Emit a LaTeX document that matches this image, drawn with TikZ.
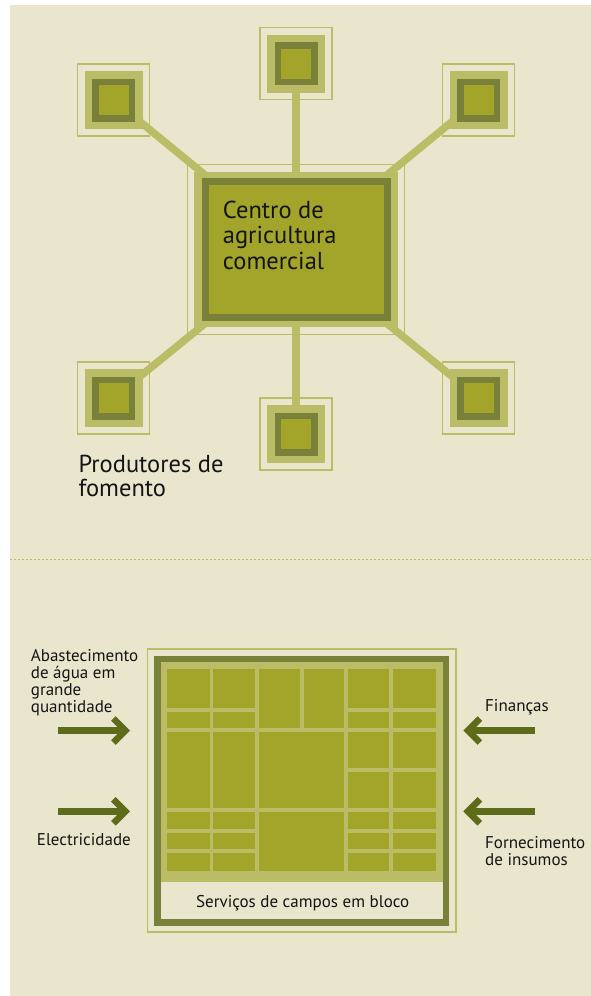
\documentclass[tikz,border=0pt]{standalone}
\usepackage{fontspec}
\setmainfont{PT Sans}
\usetikzlibrary{calc}
\definecolor{bg}{RGB}{233,230,205}
\definecolor{lite}{RGB}{186,188,102}
\definecolor{dark}{RGB}{121,128,58}
\definecolor{field}{RGB}{163,165,43}
\definecolor{arr}{RGB}{94,108,26}
\definecolor{txt}{RGB}{20,20,20}
\tikzset{
  link/.style={lite, line width=7.5},
  sframe/.style={draw=lite, line width=1.3, rectangle, inner sep=0, minimum size=72},
  slite/.style={fill=lite, rectangle, inner sep=0, minimum size=58},
  sdark/.style={fill=dark, rectangle, inner sep=0, minimum size=43},
  sfield/.style={fill=field, rectangle, inner sep=0, minimum size=30},
  fld/.style={fill=field},
  arrline/.style={arr, line width=6.5, miter limit=10, line join=miter},
  lbl/.style={txt, inner sep=0, align=left},
  pics/chevR/.style={code={\draw[arrline] (-12,-12) -- (0,0) -- (-12,12);}},
  pics/chevL/.style={code={\draw[arrline] (12,-12) -- (0,0) -- (12,12);}},
}
\newcommand\smallunit[2]{%
  \node[sframe] (#1) at (#2) {};
  \node[slite] (#1l) at (#2) {};
  \node[sdark] (#1d) at (#2) {};
  \node[sfield] (#1f) at (#2) {};
}
\begin{document}
\begin{tikzpicture}[x=1pt,y=-1pt]
\useasboundingbox (0,0) rectangle (591,996);
\fill[white] (0,0) rectangle (591,996);
\fill[bg] (10,5) rectangle (591,996);

% positions
\coordinate (c) at (296,249.5);
\coordinate (ptl) at (113.5,100);
\coordinate (ptm) at (296,63.7);
\coordinate (ptr) at (478.5,100);
\coordinate (pbl) at (113.5,398);
\coordinate (pbm) at (296,434);
\coordinate (pbr) at (478.5,398);

% connectors
\foreach \p in {ptl,ptm,ptr,pbl,pbm,pbr} \draw[link] (c) -- (\p);

% central unit
\node[draw=lite, line width=1.3, inner sep=0, minimum width=217, minimum height=170] (cf) at (c) {};
\node[fill=lite, inner sep=0, minimum width=203.3, minimum height=155] (cl) at (c) {};
\node[fill=dark, inner sep=0, minimum width=189, minimum height=142.4] (cd) at (c) {};
\node[fill=field, inner sep=0, minimum width=175, minimum height=128.3] (cfi) at (c) {};
\node[lbl, anchor=base west, font=\fontsize{24.5}{25.5}\selectfont] (ct) at (222.7,269) {Centro de\\agricultura\\comercial};

% small units
\smallunit{tl}{ptl}
\smallunit{tm}{ptm}
\smallunit{tr}{ptr}
\smallunit{bl}{pbl}
\smallunit{bm}{pbm}
\smallunit{br}{pbr}

\node[lbl, anchor=base west, font=\fontsize{24.5}{24}\selectfont] (prod) at (78.3,496.7) {Produtores de\\fomento};

% dotted divider
\coordinate (dl) at (10,559.3);
\coordinate (dr) at (591,559.3);
\draw[lite, line width=1, dash pattern=on 1.5 off 2.5] (dl) -- (dr);

% block fields
\draw[lite, line width=1.3] (147.3,649) rectangle (456,932);
\fill[dark] (154,655.7) rectangle (449.3,925.7);
\fill[lite] (160.7,661.7) rectangle (442.7,881.7);
\fill[bg] (160.7,881.7) rectangle (442.7,919.3);
% cols 1-2 and 5-6
\foreach \xa/\xb in {166.7/210, 213.3/255, 348.3/389.3, 393.3/436}{
  \foreach \ya/\yb in {669/708.3, 712.3/728.3, 812.3/829, 833/849.3, 853.3/870.7}
    \fill[fld] (\xa,\ya) rectangle (\xb,\yb);
}
\foreach \xa/\xb in {166.7/210, 213.3/255}
  \fill[fld] (\xa,732.3) rectangle (\xb,808.3);
\foreach \xa/\xb in {348.3/389.3, 393.3/436}{
  \fill[fld] (\xa,732.3) rectangle (\xb,768.3);
  \fill[fld] (\xa,772.3) rectangle (\xb,808.3);
}
% cols 3-4
\fill[fld] (259,669) rectangle (300,728.3);
\fill[fld] (304,669) rectangle (344.3,728.3);
\fill[fld] (259,732.3) rectangle (344.3,808.3);
\fill[fld] (259,812.3) rectangle (344.3,870.7);

\node[txt, inner sep=0, anchor=base, font=\fontsize{17}{19}\selectfont] (svc) at (302.7,907) {Serviços de campos em bloco};

% arrows
\coordinate (a1s) at (58.3,730.5);
\coordinate (a1v) at (125.4,730.5);
\coordinate (a2s) at (58.3,811.3);
\coordinate (a2v) at (125.4,811.3);
\coordinate (a3s) at (535,730.5);
\coordinate (a3v) at (467.9,730.5);
\coordinate (a4s) at (535,811.3);
\coordinate (a4v) at (467.9,811.3);
\draw[arrline] (a1s) -- (a1v);
\draw[arrline] (a2s) -- (a2v);
\draw[arrline] (a3s) -- (a3v);
\draw[arrline] (a4s) -- (a4v);
\pic at (a1v) {chevR};
\pic at (a2v) {chevR};
\pic at (a3v) {chevL};
\pic at (a4v) {chevL};

\node[lbl, anchor=base west, font=\fontsize{17}{17}\selectfont] (abs) at (30.7,712.7) {Abastecimento\\de água em\\grande\\quantidade};
\node[lbl, anchor=base west, font=\fontsize{17}{17}\selectfont] (ele) at (36.7,845) {Electricidade};
\node[lbl, anchor=base west, font=\fontsize{17}{17}\selectfont] (fin) at (485,711.7) {Finanças};
\node[lbl, anchor=base west, font=\fontsize{17}{16.7}\selectfont] (forn) at (485,865) {Fornecimento\\de insumos};
\end{tikzpicture}
\end{document}
